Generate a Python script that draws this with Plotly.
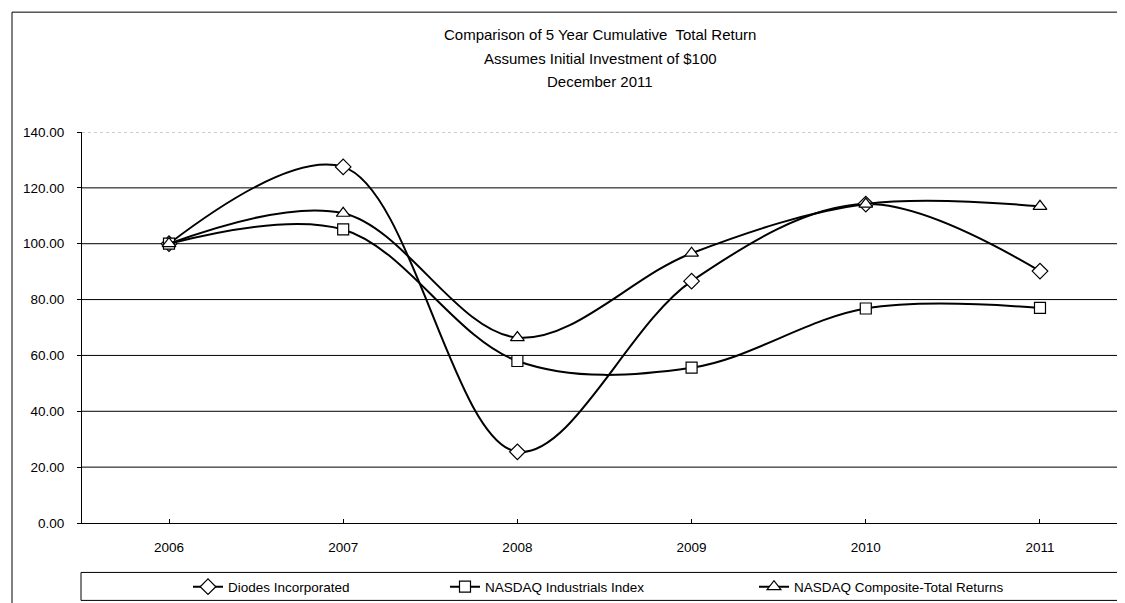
import plotly.graph_objects as go

years = ["2006", "2007", "2008", "2009", "2010", "2011"]
diodes = [100.00, 127.5, 25.5, 86.6, 114.2, 90.2]
nasdaq_ind = [100.00, 105.1, 58.0, 55.6, 76.8, 77.0]
nasdaq_comp = [100.00, 110.9, 66.4, 96.6, 114.2, 113.4]
y_ticks = [0, 20, 40, 60, 80, 100, 120, 140]
title_lines = ["Comparison of 5 Year Cumulative  Total Return",
               "Assumes Initial Investment of $100",
               "December 2011"]

W, H = 1125, 603
OFF = 8  # page body margin offset
L, R, T, B = 82 - OFF, OFF, 132 - OFF, H - (523.5 - OFF)
PW, PH = W - L - R, H - T - B

def px(x):  # reference x -> paper
    return (x - OFF - L) / PW

def py(y):  # reference y -> paper
    return (H - B - (y - OFF)) / PH

xs = list(range(len(years)))
FONT = "Liberation Sans, Arial, sans-serif"
FS = 13.5

fig = go.Figure()
series = [
    ("Diodes Incorporated", diodes, "diamond", 12, 212),
    ("NASDAQ Industrials Index", nasdaq_ind, "square", 11, 264),
    ("NASDAQ Composite-Total Returns", nasdaq_comp, "triangle-up", 12, 220),
]
for name, vals, sym, sz, lw in series:
    fig.add_trace(go.Scatter(
        x=xs, y=vals, name=name, mode="lines+markers",
        line=dict(color="black", width=2, shape="spline", smoothing=1.0),
        marker=dict(symbol=sym, size=sz, color="white",
                    line=dict(color="black", width=1.2)),
        legendwidth=lw,
    ))

shapes = []
for v in y_ticks[1:-1]:
    shapes.append(dict(type="line", xref="paper", yref="y", x0=0, x1=1, y0=v, y1=v,
                       line=dict(color="black", width=1), layer="below"))
shapes.append(dict(type="line", xref="paper", yref="y", x0=0, x1=1, y0=140, y1=140,
                   line=dict(color="#999999", width=1, dash="dot"), layer="below"))
# outer chart border (left and top)
shapes.append(dict(type="line", xref="paper", yref="paper", x0=px(12), x1=px(12),
                   y0=py(12), y1=py(H + OFF), line=dict(color="black", width=1)))
shapes.append(dict(type="line", xref="paper", yref="paper", x0=px(12), x1=px(W + OFF),
                   y0=py(12), y1=py(12), line=dict(color="black", width=1)))
# legend box
shapes.append(dict(type="rect", xref="paper", yref="paper", x0=px(81), x1=px(1120),
                   y0=py(573), y1=py(601), line=dict(color="black", width=1),
                   fillcolor="rgba(0,0,0,0)"))

annotations = []
for txt, yy in zip(title_lines, [34, 58, 81]):
    annotations.append(dict(text=txt, xref="paper", yref="paper", x=px(600), y=py(yy),
                            xanchor="center", yanchor="middle", showarrow=False,
                            font=dict(family=FONT, size=15, color="black")))

fig.update_layout(
    width=W, height=H,
    margin=dict(l=L, r=R, t=T, b=B),
    paper_bgcolor="white", plot_bgcolor="white",
    font=dict(family=FONT, size=FS, color="black"),
    xaxis=dict(
        range=[-0.4994, 5.488], tickmode="array", tickvals=xs, ticktext=years,
        showgrid=False, zeroline=False, showline=True, linecolor="black", linewidth=1,
        ticks="inside", ticklen=4, tickcolor="black", ticklabelstandoff=12,
        tickfont=dict(family=FONT, size=FS),
    ),
    yaxis=dict(
        range=[0, 140], tickmode="array", tickvals=y_ticks,
        ticktext=[f"{v:.2f}" for v in y_ticks],
        showgrid=False, zeroline=False, showline=True, linecolor="black", linewidth=1,
        ticks="outside", ticklen=4, tickcolor="black", ticklabelstandoff=10,
        tickfont=dict(family=FONT, size=FS),
    ),
    showlegend=True,
    legend=dict(
        orientation="h", x=px(188), xanchor="left", y=py(572), yanchor="top",
        entrywidthmode="pixels",
        bgcolor="rgba(0,0,0,0)", borderwidth=0,
        font=dict(family=FONT, size=FS),
    ),
    shapes=shapes,
    annotations=annotations,
)

fig.write_html("out.html")
